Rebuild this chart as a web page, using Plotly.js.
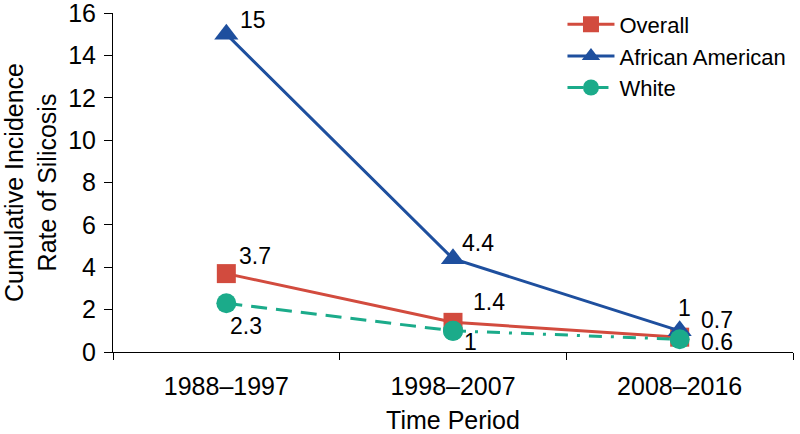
<!DOCTYPE html>
<html><head><meta charset="utf-8">
<script src="https://cdn.plot.ly/plotly-3.0.1.min.js"></script>
<style>html,body{margin:0;padding:0;background:#fff}#c{width:800px;height:434px}</style>
</head><body><div id="c"></div>
<script>
const periods = ["1988–1997", "1998–2007", "2008–2016"];
const overall = [3.7, 1.4, 0.7];
const african = [15, 4.4, 1];
const white = [2.3, 1, 0.6];
const yTicks = [0, 2, 4, 6, 8, 10, 12, 14, 16];

const red = "#d24b3e", blue = "#1e4f9e", teal = "#1bab8a";
const font = "Liberation Sans, Arial, sans-serif";

const traces = [
  {x: periods, y: overall, name: "Overall", mode: "lines+markers",
   line: {color: red, width: 3}, marker: {symbol: "square", size: 19, color: red}, cliponaxis: false},
  {x: periods, y: african, name: "African American", mode: "lines+markers",
   line: {color: blue, width: 3}, marker: {symbol: "triangle-up", size: 21, color: blue}, cliponaxis: false},
  // White: first segment dashed, second segment dash-dot (as in the reference)
  {x: periods.slice(0, 2), y: white.slice(0, 2), name: "White", mode: "lines+markers",
   line: {color: teal, width: 3, dash: "16px,9px"}, marker: {symbol: "circle", size: 20, color: teal}, cliponaxis: false},
  {x: periods.slice(1), y: white.slice(1), name: "White", mode: "lines+markers", showlegend: false,
   line: {color: teal, width: 3, dash: "13px,9px,3px,9px"}, marker: {symbol: "circle", size: 20, color: teal}, cliponaxis: false}
];

// label offsets (pixels, +x right, +y down) per series/point
const offs = {
  overall: [[29, -18], [36, -20], [37, -17]],
  african: [[27, -14], [25, -16], [5, -23]],
  white:   [[20, 23], [17, 11], [37, 3]]
};
const anns = [];
function addLabels(vals, key) {
  vals.forEach((v, i) => {
    anns.push({x: periods[i], y: v, text: String(v), showarrow: false,
      xshift: offs[key][i][0], yshift: -offs[key][i][1],
      font: {family: font, size: 23, color: "#000"}});
  });
}
addLabels(overall, "overall");
addLabels(african, "african");
addLabels(white, "white");

const layout = {
  width: 800, height: 434,
  margin: {l: 113, r: 7, t: 13, b: 82, autoexpand: false},
  paper_bgcolor: "#fff", plot_bgcolor: "#fff",
  font: {family: font, size: 25, color: "#000"},
  showlegend: true,
  legend: {x: 0.661, y: 1.028, xanchor: "left", yanchor: "top",
    font: {size: 22}, bgcolor: "rgba(0,0,0,0)", tracegroupgap: 0, itemwidth: 47},
  xaxis: {type: "category", range: [-0.5, 2.5], tickson: "boundaries", ticks: "outside",
    ticklen: 7, tickcolor: "#000", showline: true, linecolor: "#000", linewidth: 1,
    showgrid: false, zeroline: false, ticklabelstandoff: 12, ticklabeloverflow: "allow",
    tickfont: {size: 25},
    title: {text: "Time Period", font: {size: 25}, standoff: 13}},
  yaxis: {range: [0, 16], tickvals: yTicks, ticks: "outside", ticklen: 8, tickcolor: "#000",
    showline: true, linecolor: "#000", linewidth: 1, showgrid: false, zeroline: false,
    ticklabelstandoff: 3, ticklabeloverflow: "allow", tickfont: {size: 25},
    title: {text: "Cumulative Incidence<br>Rate of Silicosis", font: {size: 25}, standoff: 14}},
  annotations: anns
};
Plotly.newPlot("c", traces, layout, {displayModeBar: false, staticPlot: true});
</script></body></html>
